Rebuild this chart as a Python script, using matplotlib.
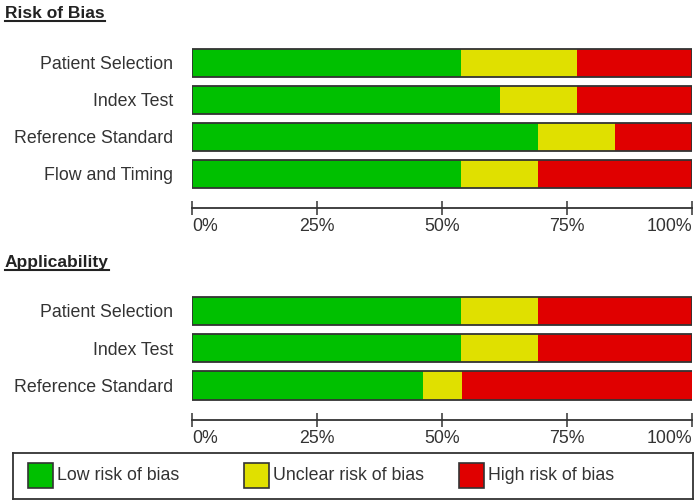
import matplotlib
matplotlib.use("Agg")
from matplotlib import pyplot as plt
from matplotlib.patches import Rectangle
from matplotlib.lines import Line2D
import numpy as np

plt.rcParams['font.family'] = ['Liberation Sans', 'DejaVu Sans']

# data (percent of studies)
rob_categories = ["Patient Selection", "Index Test", "Reference Standard", "Flow and Timing"]
rob_low = [53.8, 61.5, 69.2, 53.8]
rob_unclear = [23.1, 15.4, 15.4, 15.4]
rob_high = [23.1, 23.1, 15.4, 30.8]

app_categories = ["Patient Selection", "Index Test", "Reference Standard"]
app_low = [53.8, 53.8, 46.2]
app_unclear = [15.4, 15.4, 7.7]
app_high = [30.8, 30.8, 46.2]

legend_labels = ["Low risk of bias", "Unclear risk of bias", "High risk of bias"]
colors = ["#00c000", "#e0e000", "#e00000"]
tick_vals = [0, 25, 50, 75, 100]
tick_labels = ["0%", "25%", "50%", "75%", "100%"]

W, H = 698, 504
edge = "#333333"
txt = "#333333"
FS = 12.8


def px_rect(x0, y0, x1, y1):
    # pixel box (top-left origin) -> figure fraction rect
    return [x0 / W, (H - y1) / H, (x1 - x0) / W, (y1 - y0) / H]


def draw_panel(fig, rect, categories, low, unclear, high):
    ax = fig.add_axes(rect)
    y = np.arange(len(categories))
    left = np.zeros(len(categories))
    for vals, c in zip([low, unclear, high], colors):
        ax.barh(y, vals, left=left, height=0.76, color=c, edgecolor="none")
        left = left + np.array(vals)
    ax.barh(y, left, height=0.76, fill=False, edgecolor=edge, linewidth=1.3)
    ax.set_xlim(0, 100)
    ax.set_ylim(len(categories) - 1 + 0.93, -0.6)
    ax.set_yticks(y)
    ax.set_yticklabels(categories, fontsize=FS, color=txt)
    ax.tick_params(axis="y", length=0, pad=13.7)
    ax.set_xticks(tick_vals)
    ax.set_xticklabels(tick_labels, fontsize=FS, color=txt)
    ax.tick_params(axis="x", direction="inout", length=9.5, width=1.1, color=edge, pad=2.8)
    labs = ax.get_xticklabels()
    labs[0].set_ha("left")
    labs[-1].set_ha("right")
    for s in ["top", "left", "right"]:
        ax.spines[s].set_visible(False)
    ax.spines["bottom"].set_color(edge)
    ax.spines["bottom"].set_linewidth(1.3)
    return ax


def title(fig, x, y, s):
    t = fig.text(x / W, 1 - y / H, s, fontsize=12.5, fontweight="bold", color="#222222",
                 va="baseline", ha="left")
    fig.canvas.draw()
    bb = t.get_window_extent()
    yl = (H - y - 3) / H
    fig.add_artist(Line2D([bb.x0 / W, bb.x1 / W], [yl, yl], color="#222222", linewidth=1.5))


fig = plt.figure(figsize=(W / 100, H / 100), dpi=100)

draw_panel(fig, px_rect(192, 40.5, 692, 208), rob_categories, rob_low, rob_unclear, rob_high)
draw_panel(fig, px_rect(192, 288.5, 692, 420), app_categories, app_low, app_unclear, app_high)

title(fig, 5, 17.5, "Risk of Bias")
title(fig, 5, 266.5, "Applicability")

# legend box
lg = fig.add_axes(px_rect(13, 453, 693, 499))
lg.set_xlim(0, 680)
lg.set_ylim(0, 46)
lg.set_xticks([])
lg.set_yticks([])
for s in lg.spines.values():
    s.set_color(edge)
    s.set_linewidth(1.3)
for xs, lab, c in zip([15, 231, 446], legend_labels, colors):
    lg.add_patch(Rectangle((xs, 11), 25, 25, facecolor=c, edgecolor=edge, linewidth=1.2))
    lg.text(xs + 29, 23.5, lab, fontsize=FS, color=txt, va="center", ha="left")

fig.savefig("out.png", dpi=100)
